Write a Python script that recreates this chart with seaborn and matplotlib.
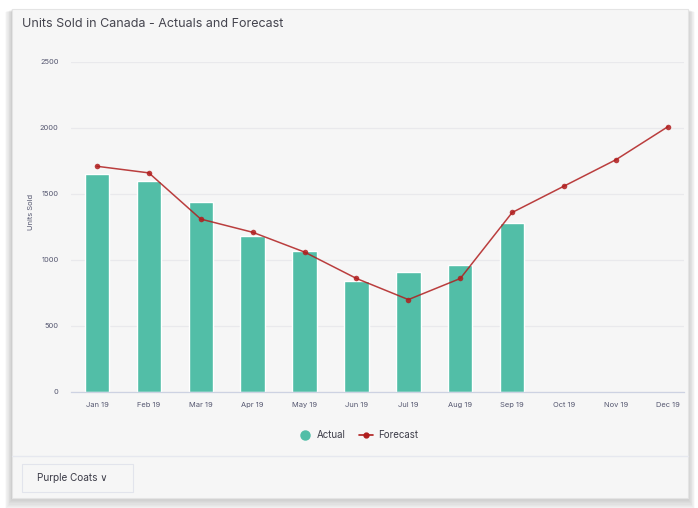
import matplotlib
matplotlib.use("Agg")
import matplotlib.pyplot as plt
import seaborn as sns
import pandas as pd
import numpy as np
from matplotlib.patches import Rectangle
from matplotlib.lines import Line2D

# ---- data ----
months = ["Jan 19", "Feb 19", "Mar 19", "Apr 19", "May 19", "Jun 19",
          "Jul 19", "Aug 19", "Sep 19", "Oct 19", "Nov 19", "Dec 19"]
actual = [1650, 1600, 1440, 1180, 1070, 840, 910, 960, 1280]
forecast = [1710, 1660, 1310, 1210, 1060, 860, 700, 860, 1360, 1560, 1760, 2010]
yticks = [0, 500, 1000, 1500, 2000, 2500]
title = "Units Sold in Canada - Actuals and Forecast"
ylabel = "Units Sold"
legend_labels = ["Actual", "Forecast"]
button_label = "Purple Coats \u2228"

TEAL = "#52bea7"
RED = "#b01e1e"
TXT = "#555770"
GRID = "#e9e9ec"
AXC = "#cdd2e2"

sns.set_theme(style="white")
plt.rcParams["font.family"] = ["Inter", "DejaVu Sans"]

W, H = 698, 508
fig = plt.figure(figsize=(W / 100, H / 100), dpi=100)
fig.patch.set_facecolor("white")


def frect(x, y, w, h, **kw):
    r = Rectangle((x / W, 1 - (y + h) / H), w / W, h / H,
                  transform=fig.transFigure, **kw)
    fig.patches.append(r)
    return r


# soft shadow + card
for d in range(1, 11):
    frect(12 - d * 0.7, 9 + d * 0.3, 676 + d * 1.4, 489 + d * 1.0,
          facecolor="black", alpha=0.018, edgecolor="none", zorder=0)
frect(12, 9, 676, 489, facecolor="#f6f6f6", edgecolor="#e4e4e4",
      linewidth=0.8, zorder=1)

# separator and button
fig.lines.append(Line2D([12 / W, 688 / W], [1 - 456 / H, 1 - 456 / H],
                        transform=fig.transFigure, color="#e6e8ef", lw=1.0, zorder=2))
frect(22, 464, 111, 28, facecolor="#f6f6f6", edgecolor="#e2e4ec", linewidth=0.8, zorder=2)
fig.text(37 / W, 1 - 478 / H, button_label, fontsize=7.2, color="#3c3c48",
         va="center", ha="left", zorder=3)

# title
fig.text(22 / W, 1 - 24 / H, title, fontsize=9, color="#44444e",
         va="center", ha="left", zorder=3)

# axes
left, right, top, bottom = 71, 684, 62, 392
ax = fig.add_axes([left / W, 1 - bottom / H, (right - left) / W, (bottom - top) / H])
ax.set_facecolor("none")
ax.set_zorder(3)

df_a = pd.DataFrame({"month": months[:len(actual)], "units": actual})
sns.barplot(data=df_a, x="month", y="units", order=months, color=TEAL,
            saturation=1, width=0.47, ax=ax, zorder=2)

df_f = pd.DataFrame({"pos": np.arange(len(forecast)), "units": forecast})
sns.lineplot(data=df_f, x="pos", y="units", color=RED, linewidth=1.1, alpha=0.85,
             marker="o", markersize=4, markeredgewidth=0, ax=ax, zorder=3)

ax.set_xlim(-0.5, 11.31)
ax.set_ylim(0, 2500)
ax.set_yticks(yticks)
ax.set_yticklabels([str(v) for v in yticks])
ax.set_xticks(np.arange(len(months)))
ax.set_xticklabels(months)
ax.set_xticks(np.arange(len(months)) - 0.5, minor=True)
ax.tick_params(axis="x", which="major", length=0, pad=7, labelsize=5.4, labelcolor=TXT)
ax.tick_params(axis="x", which="minor", length=4, width=0.8, color=AXC, direction="out")
ax.tick_params(axis="y", length=0, pad=9, labelsize=5.4, labelcolor=TXT)
ax.yaxis.grid(True, color=GRID, linewidth=0.9)
ax.set_axisbelow(True)
for s in ["top", "right", "left"]:
    ax.spines[s].set_visible(False)
ax.spines["bottom"].set_color(AXC)
ax.spines["bottom"].set_linewidth(0.9)
ax.set_xlabel("")
ax.set_ylabel("")
if ax.get_legend():
    ax.get_legend().remove()

fig.text(31 / W, 1 - 212 / H, ylabel, fontsize=5.4, color=TXT, rotation=90,
         va="center", ha="center", zorder=3)

# legend
handles = [Line2D([], [], marker="o", linestyle="", color=TEAL, markersize=6.5),
           Line2D([], [], marker="o", linestyle="-", color=RED, markersize=3.5,
                  linewidth=1.2)]
leg = fig.legend(handles, legend_labels, loc="center", ncol=2,
                 bbox_to_anchor=(358 / W, 1 - 435 / H), frameon=False,
                 fontsize=7, handlelength=1.4, handletextpad=0.5, columnspacing=1.4)
for t in leg.get_texts():
    t.set_color("#3c3c48")

fig.savefig("out.png", dpi=100)
